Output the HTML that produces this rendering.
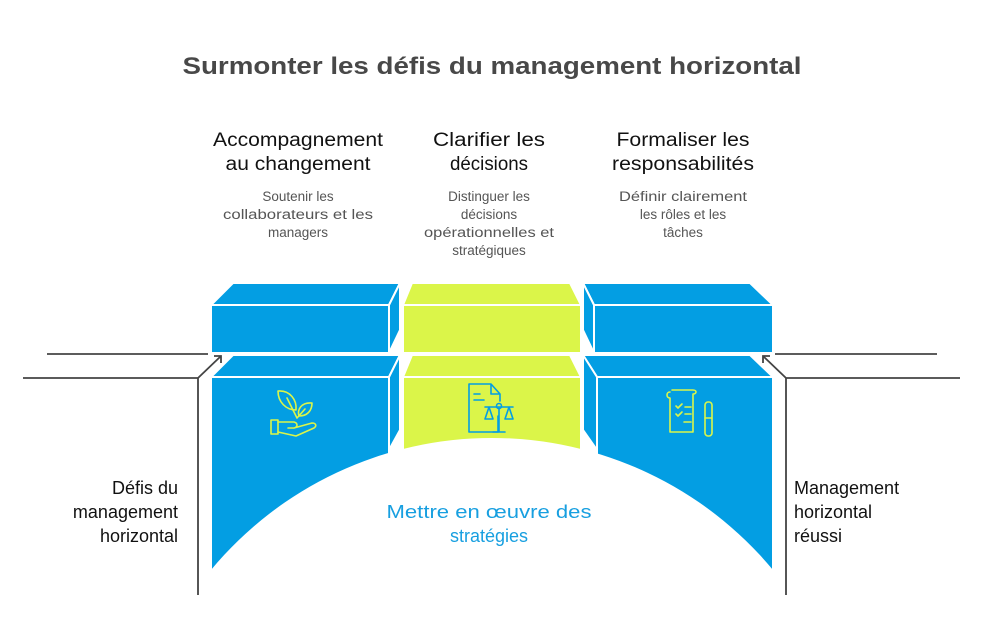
<!DOCTYPE html>
<html><head><meta charset="utf-8"><style>html,body{margin:0;padding:0;background:#fff;width:984px;height:642px;overflow:hidden}svg{display:block}</style></head>
<body>
<svg width="984" height="642" viewBox="0 0 984 642" xmlns="http://www.w3.org/2000/svg" font-family="Liberation Sans, sans-serif">
<text x="492" y="74" text-anchor="middle" font-size="24" font-weight="bold" fill="#484848" textLength="619" lengthAdjust="spacingAndGlyphs">Surmonter les défis du management horizontal</text>

<g font-size="19" fill="#111" text-anchor="middle">
<text x="298" y="146" textLength="170" lengthAdjust="spacingAndGlyphs">Accompagnement</text>
<text x="298" y="170" textLength="145" lengthAdjust="spacingAndGlyphs">au changement</text>
<text x="489" y="146" textLength="112" lengthAdjust="spacingAndGlyphs">Clarifier les</text>
<text x="489" y="170" textLength="78" lengthAdjust="spacingAndGlyphs">décisions</text>
<text x="683" y="146" textLength="133" lengthAdjust="spacingAndGlyphs">Formaliser les</text>
<text x="683" y="170" textLength="142" lengthAdjust="spacingAndGlyphs">responsabilités</text>
</g>
<g font-size="13.5" fill="#555" text-anchor="middle">
<text x="298" y="201">Soutenir les</text>
<text x="298" y="219" textLength="150" lengthAdjust="spacingAndGlyphs">collaborateurs et les</text>
<text x="298" y="237">managers</text>
<text x="489" y="201">Distinguer les</text>
<text x="489" y="219">décisions</text>
<text x="489" y="237" textLength="130" lengthAdjust="spacingAndGlyphs">opérationnelles et</text>
<text x="489" y="255">stratégiques</text>
<text x="683" y="201" textLength="128" lengthAdjust="spacingAndGlyphs">Définir clairement</text>
<text x="683" y="219">les rôles et les</text>
<text x="683" y="237">tâches</text>
</g>

<g stroke="#fff" stroke-width="2" stroke-linejoin="round">
<polygon points="233,283 400,283 389,305 211,305" fill="#039ee3"/>
<polygon points="389,305 400,283 400,330 389,353" fill="#039ee3"/>
<rect x="211" y="305" width="178" height="48" fill="#039ee3"/>
<polygon points="412,283 570,283 581,305 403,305" fill="#dbf549"/>
<rect x="403" y="305" width="178" height="48" fill="#dbf549"/>
<polygon points="583,283 750,283 773,305 594,305" fill="#039ee3"/>
<polygon points="583,283 594,305 594,353 583,330" fill="#039ee3"/>
<rect x="594" y="305" width="179" height="48" fill="#039ee3"/>
<polygon points="233,355 400,355 389,377 211,377" fill="#039ee3"/>
<polygon points="389,377 400,355 400,430 389,450" fill="#039ee3"/>
<rect x="211" y="377" width="178" height="200" fill="#039ee3"/>
<polygon points="412,355 570,355 581,377 403,377" fill="#dbf549"/>
<rect x="403" y="377" width="178" height="80" fill="#dbf549"/>
<polygon points="583,355 750,355 773,377 597,377" fill="#039ee3"/>
<polygon points="583,355 597,377 597,450 583,430" fill="#039ee3"/>
<rect x="597" y="377" width="176" height="200" fill="#039ee3"/>
</g>
<path d="M208,570 L211,570 A365,365 0 0 1 773,570 L776,570 L776,600 L208,600 Z" fill="#fff"/>

<text x="489" y="518" text-anchor="middle" font-size="18" fill="#179fe0" textLength="205" lengthAdjust="spacingAndGlyphs">Mettre en œuvre des</text>
<text x="489" y="542" text-anchor="middle" font-size="18" fill="#179fe0">stratégies</text>

<g fill="none" stroke="#dbf549" stroke-width="1.6" stroke-linejoin="round" stroke-linecap="round">
<path d="M278,391 C290,390 297,400 296,410 C286,410 278,402 278,391 Z"/>
<path d="M312,403 C301,402 297,410 299,416 C307,416 312,411 312,403 Z"/>
<path d="M287,398 L297,418 M305,409 L297,418"/>
<rect x="271" y="420" width="7" height="14"/>
<path d="M278,422 L294,422 C298,423 298,427 294,428 L288,428 M294,428 L312,423 C316,423 317,426 314,428 L296,436 L278,432"/>
<path d="M670,392 C666,392 666,398 670,398 L670,432 L693,432 L693,394 C697,394 697,390 693,390 L672,390"/>
<path d="M676,406 l2,2 l4,-4 M676,414 l2,2 l4,-4 M685,407 h6 M685,414 h6 M684,422 h7"/>
<rect x="705" y="402" width="7" height="34" rx="3"/>
<path d="M705,418 h7"/>
</g>
<g fill="none" stroke="#039ee3" stroke-width="1.6" stroke-linejoin="round" stroke-linecap="round">
<path d="M498,416 L498,432 L469,432 L469,384 L491,384 L500,394 L500,401 M491,384 L491,394 L500,394"/>
<path d="M474,394 h6 M474,400 h10"/>
<circle cx="499" cy="406" r="2.5"/>
<path d="M485,407 h28 M499,409 V432 M493,432 h12 M489,407 l-4,12 h8 z M509,407 l-4,12 h8 z"/>
</g>

<g stroke="#444" stroke-width="1.8" fill="none">
<path d="M47,354 H208"/>
<path d="M23,378 H198 V595 M198,378 L221,356"/>
<path d="M214,356 H221 V363"/>
<path d="M775,354 H937"/>
<path d="M960,378 H786 V595 M786,378 L763,356"/>
<path d="M770,356 H763 V363"/>
</g>

<g font-size="18" fill="#111">
<text x="178" y="494" text-anchor="end">Défis du</text>
<text x="178" y="518" text-anchor="end">management</text>
<text x="178" y="542" text-anchor="end">horizontal</text>
<text x="794" y="494">Management</text>
<text x="794" y="518">horizontal</text>
<text x="794" y="542">réussi</text>
</g>
</svg>
</body></html>
